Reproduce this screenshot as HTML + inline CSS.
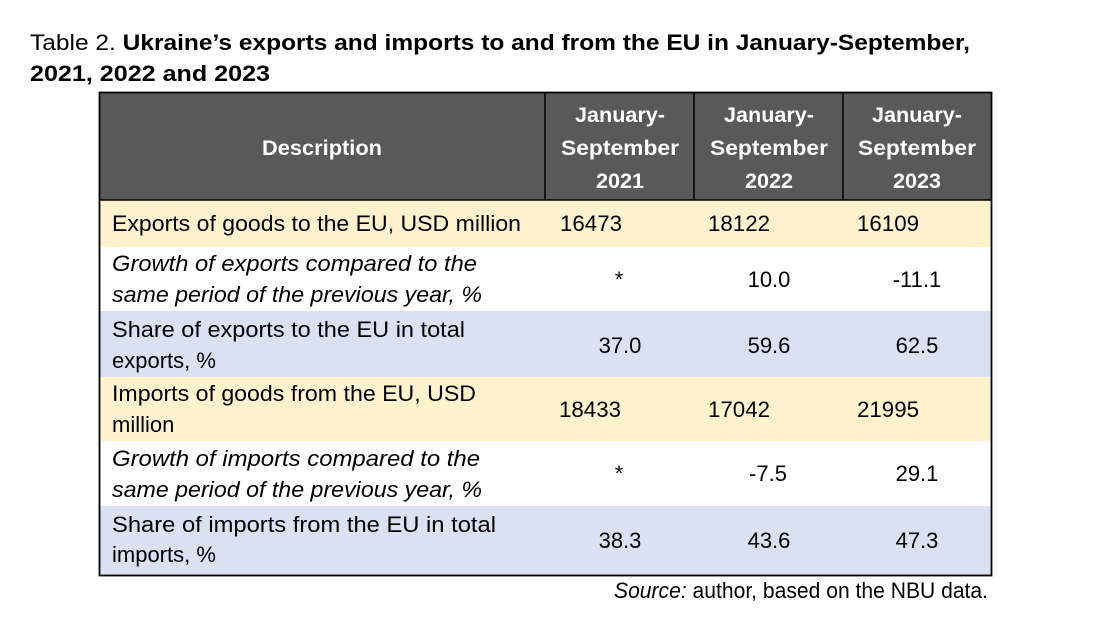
<!DOCTYPE html>
<html><head><meta charset="utf-8"><style>
html,body{margin:0;padding:0;background:#fff;}
svg{display:block;}
text{font-family:"Liberation Sans",sans-serif;font-size:22px;fill:#000;}
.b{font-weight:bold;}
.i{font-style:italic;}
.h{fill:#fff;font-weight:bold;font-size:21px;}
</style></head><body>
<svg width="1093" height="630" viewBox="0 0 1093 630">
<text x="30" y="50" textLength="940" lengthAdjust="spacingAndGlyphs">Table 2. <tspan class="b">Ukraine’s exports and imports to and from the EU in January-September,</tspan></text>
<text x="30" y="81" class="b" textLength="240" lengthAdjust="spacingAndGlyphs">2021, 2022 and 2023</text>

<rect x="100" y="93" width="891" height="107" fill="#595959"/>
<rect x="100" y="200" width="891" height="47" fill="#fff2cc"/>
<rect x="100" y="311" width="891" height="66" fill="#d9e1f2"/>
<rect x="100" y="377" width="891" height="64" fill="#fff2cc"/>
<rect x="100" y="506" width="891" height="69" fill="#d9e1f2"/>
<line x1="545" y1="93" x2="545" y2="200" stroke="#000" stroke-width="1.5"/>
<line x1="694" y1="93" x2="694" y2="200" stroke="#000" stroke-width="1.5"/>
<line x1="843" y1="93" x2="843" y2="200" stroke="#000" stroke-width="1.5"/>
<line x1="100" y1="200" x2="991" y2="200" stroke="#000" stroke-width="1.5"/>
<rect x="99.5" y="92.5" width="892" height="483" fill="none" stroke="#000" stroke-width="1.8"/>

<text x="322" y="155" text-anchor="middle" class="h" textLength="120" lengthAdjust="spacingAndGlyphs">Description</text>
<g>
<text x="620" y="122" text-anchor="middle" class="h" textLength="90" lengthAdjust="spacingAndGlyphs">January-</text>
<text x="620" y="155" text-anchor="middle" class="h" textLength="118" lengthAdjust="spacingAndGlyphs">September</text>
<text x="620" y="188" text-anchor="middle" class="h" textLength="48" lengthAdjust="spacingAndGlyphs">2021</text></g>
<g>
<text x="769" y="122" text-anchor="middle" class="h" textLength="90" lengthAdjust="spacingAndGlyphs">January-</text>
<text x="769" y="155" text-anchor="middle" class="h" textLength="118" lengthAdjust="spacingAndGlyphs">September</text>
<text x="769" y="188" text-anchor="middle" class="h" textLength="48" lengthAdjust="spacingAndGlyphs">2022</text></g>
<g>
<text x="917" y="122" text-anchor="middle" class="h" textLength="90" lengthAdjust="spacingAndGlyphs">January-</text>
<text x="917" y="155" text-anchor="middle" class="h" textLength="118" lengthAdjust="spacingAndGlyphs">September</text>
<text x="917" y="188" text-anchor="middle" class="h" textLength="48" lengthAdjust="spacingAndGlyphs">2023</text></g>

<text x="112" y="231" textLength="409" lengthAdjust="spacingAndGlyphs">Exports of goods to the EU, USD million</text>
<text x="560" y="231" textLength="62" lengthAdjust="spacingAndGlyphs">16473</text>
<text x="708" y="231" textLength="62" lengthAdjust="spacingAndGlyphs">18122</text>
<text x="857" y="231" textLength="62" lengthAdjust="spacingAndGlyphs">16109</text>

<text x="112" y="271" class="i" textLength="365" lengthAdjust="spacingAndGlyphs">Growth of exports compared to the</text>
<text x="112" y="302" class="i" textLength="370" lengthAdjust="spacingAndGlyphs">same period of the previous year, %</text>
<text x="619" y="287" text-anchor="middle">*</text>
<text x="769" y="287" text-anchor="middle">10.0</text>
<text x="917" y="287" text-anchor="middle">-11.1</text>

<text x="112" y="337" textLength="353" lengthAdjust="spacingAndGlyphs">Share of exports to the EU in total</text>
<text x="112" y="368">exports, %</text>
<text x="620" y="353" text-anchor="middle">37.0</text>
<text x="769" y="353" text-anchor="middle">59.6</text>
<text x="917" y="353" text-anchor="middle">62.5</text>

<text x="112" y="401" textLength="364" lengthAdjust="spacingAndGlyphs">Imports of goods from the EU, USD</text>
<text x="112" y="432">million</text>
<text x="559" y="417" textLength="62" lengthAdjust="spacingAndGlyphs">18433</text>
<text x="708" y="417" textLength="62" lengthAdjust="spacingAndGlyphs">17042</text>
<text x="857" y="417" textLength="62" lengthAdjust="spacingAndGlyphs">21995</text>

<text x="112" y="466" class="i" textLength="368" lengthAdjust="spacingAndGlyphs">Growth of imports compared to the</text>
<text x="112" y="497" class="i" textLength="370" lengthAdjust="spacingAndGlyphs">same period of the previous year, %</text>
<text x="619" y="481" text-anchor="middle">*</text>
<text x="768" y="481" text-anchor="middle">-7.5</text>
<text x="917" y="481" text-anchor="middle">29.1</text>

<text x="112" y="532" textLength="384" lengthAdjust="spacingAndGlyphs">Share of imports from the EU in total</text>
<text x="112" y="562">imports, %</text>
<text x="620" y="548" text-anchor="middle">38.3</text>
<text x="769" y="548" text-anchor="middle">43.6</text>
<text x="917" y="548" text-anchor="middle">47.3</text>

<text x="614" y="598" textLength="374" lengthAdjust="spacingAndGlyphs"><tspan class="i">Source:</tspan> author, based on the NBU data.</text>
</svg>
</body></html>
